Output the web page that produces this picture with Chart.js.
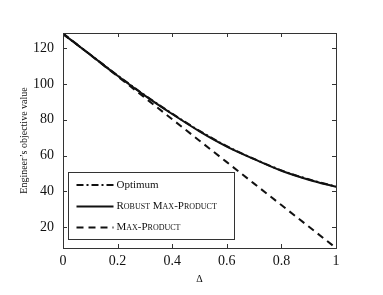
<!DOCTYPE html>
<html>
<head>
<meta charset="utf-8">
<script src="https://cdn.jsdelivr.net/npm/chart.js@4.4.1/dist/chart.umd.min.js"></script>
<style>
  html, body { margin: 0; padding: 0; background: #fff; }
  #wrap { width: 383px; height: 295px; }
</style>
</head>
<body>
<div id="wrap"><canvas id="chart" width="383" height="295"></canvas></div>
<script>
// values
const deltas = [0, 0.1, 0.2, 0.3, 0.4, 0.5, 0.6, 0.7, 0.8, 0.9, 1];
const optimum = [128, 116.4, 104.8, 93.7, 83.4, 73.8, 65.2, 58.1, 51.7, 46.7, 42.6];
const robust = [128, 116.3, 104.6, 93.5, 83.2, 73.5, 65, 58, 51.5, 46.5, 42.5];
const maxProduct = [128.3, 116.3, 104.3, 92.3, 80.3, 68.3, 56.3, 44.3, 32.3, 20.3, 8.3];
const xTicks = [0, 0.2, 0.4, 0.6, 0.8, 1];
const yTicks = [20, 40, 60, 80, 100, 120];
const legendLabels = ['Optimum', 'Robust Max-Product', 'Max-Product'];

const serif = '"Liberation Serif", "DejaVu Serif", serif';
const ink = '#111';

function points(ys) {
    return deltas.map((d, i) => ({ x: d, y: ys[i] }));
}

// frame + inward ticks on all four sides
const framePlugin = {
    id: 'frame',
    afterDraw(chart) {
        const ctx = chart.ctx;
        const a = chart.chartArea;
        const xs = chart.scales.x, ys = chart.scales.y;
        ctx.save();
        ctx.strokeStyle = '#333';
        ctx.lineWidth = 1;
        ctx.strokeRect(a.left + 0.5, a.top + 0.5, a.right - a.left, a.bottom - a.top);
        ctx.beginPath();
        xTicks.forEach(v => {
            const px = Math.round(xs.getPixelForValue(v)) + 0.5;
            ctx.moveTo(px, a.bottom); ctx.lineTo(px, a.bottom - 4);
            ctx.moveTo(px, a.top); ctx.lineTo(px, a.top + 4);
        });
        yTicks.forEach(v => {
            const py = Math.round(ys.getPixelForValue(v)) + 0.5;
            ctx.moveTo(a.left, py); ctx.lineTo(a.left + 4, py);
            ctx.moveTo(a.right, py); ctx.lineTo(a.right - 4, py);
        });
        ctx.stroke();
        ctx.restore();
    }
};

// boxed legend in the lower left of the plot
const legendPlugin = {
    id: 'boxLegend',
    afterDraw(chart) {
        const ctx = chart.ctx;
        const a = chart.chartArea;
        const bx = a.left + 5.5, by = 172.5, bw = 166, bh = 67;
        ctx.save();
        ctx.fillStyle = '#fff';
        ctx.fillRect(bx, by, bw, bh);
        ctx.strokeStyle = '#333';
        ctx.lineWidth = 1;
        ctx.strokeRect(bx, by, bw, bh);
        const rows = [185, 206.5, 227.5];
        chart.data.datasets.forEach((ds, i) => {
            const y = rows[i];
            ctx.strokeStyle = ink;
            ctx.lineWidth = 2;
            ctx.setLineDash(ds.borderDash || []);
            ctx.beginPath();
            ctx.moveTo(bx + 8, y);
            ctx.lineTo(bx + 45, y);
            ctx.stroke();
            ctx.setLineDash([]);
            ctx.fillStyle = ink;
            ctx.textBaseline = 'middle';
            ctx.textAlign = 'left';
            ctx.font = (i === 0 ? '' : 'small-caps ') + '11px ' + serif;
            ctx.fillText(legendLabels[i], bx + 48, y);
        });
        ctx.restore();
    }
};

const chart = new Chart(document.getElementById('chart').getContext('2d'), {
    type: 'line',
    data: {
        datasets: [
            {
                label: legendLabels[0],
                data: points(optimum),
                borderColor: ink,
                borderWidth: 2,
                borderDash: [7, 3, 2, 3],
                pointRadius: 0,
                cubicInterpolationMode: 'monotone'
            },
            {
                label: legendLabels[1],
                data: points(robust),
                borderColor: ink,
                borderWidth: 2,
                pointRadius: 0,
                cubicInterpolationMode: 'monotone'
            },
            {
                label: legendLabels[2],
                data: points(maxProduct),
                borderColor: ink,
                borderWidth: 2,
                borderDash: [7, 5],
                pointRadius: 0
            }
        ]
    },
    options: {
        responsive: false,
        animation: false,
        layout: { padding: { left: 0, right: 47, top: 33, bottom: 0 } },
        plugins: {
            legend: { display: false },
            tooltip: { enabled: false }
        },
        scales: {
            x: {
                type: 'linear',
                min: 0,
                max: 1,
                afterBuildTicks: s => { s.ticks = xTicks.map(v => ({ value: v })); },
                afterFit: s => { s.height = 47; },
                grid: { display: false, drawTicks: false },
                border: { display: false },
                ticks: {
                    padding: 5,
                    color: ink,
                    maxRotation: 0,
                    font: { family: serif, size: 14 },
                    callback: v => String(v)
                },
                title: {
                    display: true,
                    text: 'Δ',
                    color: ink,
                    font: { family: serif, size: 10 },
                    padding: { top: 0, bottom: 10 }
                }
            },
            y: {
                min: 8.3,
                max: 128.5,
                afterBuildTicks: s => { s.ticks = yTicks.map(v => ({ value: v })); },
                afterFit: s => { s.width = 63; },
                grid: { display: false, drawTicks: false },
                border: { display: false },
                ticks: {
                    padding: 9,
                    color: ink,
                    font: { family: serif, size: 14 },
                    callback: v => String(v)
                },
                title: {
                    display: true,
                    text: 'Engineer’s objective value',
                    color: ink,
                    font: { family: serif, size: 10 },
                    padding: { top: 18, bottom: 0 }
                }
            }
        }
    },
    plugins: [framePlugin, legendPlugin]
});
</script>
</body>
</html>
